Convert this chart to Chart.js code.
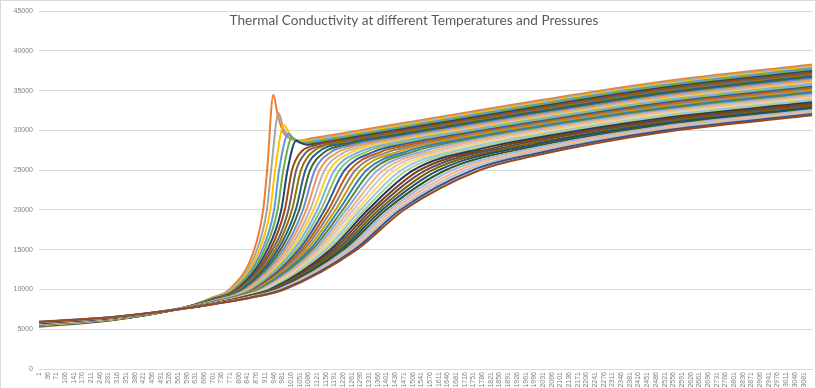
<!DOCTYPE html>
<html>
<head>
<meta charset="utf-8">
<script src="https://cdn.jsdelivr.net/npm/chart.js@4.4.1/dist/chart.umd.min.js"></script>
<style>
  html, body { margin: 0; padding: 0; background: #fff; }
  #frame { width: 815px; height: 388px; box-sizing: border-box; border-left: 1px solid #d9d9d9; border-top: 1px solid #d9d9d9; }
  canvas { display: block; }
</style>
</head>
<body>
<div id="frame"><canvas id="conductivityChart" width="814" height="387"></canvas></div>
<script>
const chartTitle = 'Thermal Conductivity at different Temperatures and Pressures';

// one value per pressure curve (40 curves)
const kAt1 = [5300, 5320, 5330, 5350, 5370, 5380, 5400, 5420, 5430, 5450, 5470, 5480, 5500, 5520, 5530, 5550, 5570, 5580, 5600, 5620, 5630, 5650, 5670, 5680, 5700, 5720, 5730, 5750, 5770, 5780, 5800, 5820, 5830, 5850, 5870, 5880, 5900, 5920, 5930, 5950];
const kAt300 = [6150, 6160, 6170, 6180, 6190, 6200, 6210, 6220, 6230, 6240, 6250, 6260, 6270, 6280, 6290, 6300, 6310, 6330, 6340, 6350, 6360, 6370, 6380, 6390, 6400, 6410, 6420, 6430, 6440, 6450, 6460, 6470, 6480, 6490, 6500, 6510, 6520, 6530, 6540, 6550];
const kAt600 = [7850, 7845, 7840, 7835, 7830, 7825, 7820, 7815, 7810, 7805, 7800, 7795, 7790, 7785, 7780, 7775, 7770, 7765, 7760, 7755, 7750, 7745, 7740, 7735, 7730, 7725, 7720, 7715, 7710, 7705, 7700, 7695, 7690, 7685, 7680, 7675, 7670, 7665, 7660, 7655];
const kAt700 = [9000, 8950, 8900, 8860, 8820, 8780, 8740, 8700, 8660, 8620, 8590, 8560, 8530, 8500, 8470, 8450, 8420, 8400, 8370, 8350, 8330, 8310, 8300, 8280, 8270, 8250, 8240, 8230, 8220, 8210, 8200, 8190, 8180, 8175, 8170, 8165, 8160, 8155, 8150, 8150];
const kAt850 = [...Array(20).fill(null), 9530, 9500, 9470, 9430, 9400, 9370, 9340, 9310, 9280, 9250, 9210, 9180, 9150, 9120, 9090, 9060, 9030, 9000, 8960, 8930];

// temperature where each curve crosses the 10000 / 15000 / 20000 / 25000 gridlines
const t10k = [768, 774, 779, 785, 791, 796, 802, 808, 813, 819, 825, 830, 836, 842, 847, 853, 859, 864, 870, 876, 881, 887, 893, 898, 904, 910, 915, 921, 926, 932, 938, 943, 949, 955, 960, 966, 972, 977, 983, 989];
const t15k = [868, 879, 889, 900, 910, 921, 932, 942, 953, 963, 974, 985, 995, 1006, 1016, 1027, 1038, 1048, 1059, 1069, 1080, 1091, 1101, 1112, 1122, 1133, 1144, 1154, 1165, 1175, 1186, 1197, 1207, 1218, 1228, 1239, 1250, 1260, 1271, 1281];
const t20k = [904, 919, 933, 948, 962, 977, 991, 1006, 1020, 1035, 1049, 1064, 1078, 1093, 1107, 1122, 1136, 1151, 1166, 1180, 1195, 1209, 1224, 1238, 1253, 1267, 1282, 1296, 1311, 1325, 1340, 1354, 1369, 1383, 1398, 1413, 1427, 1442, 1456, 1471];
const t25k = [920, 936, 952, 968, 985, 1002, 1020, 1037, 1056, 1074, 1093, 1112, 1131, 1151, 1171, 1191, 1211, 1232, 1254, 1275, 1297, 1320, 1342, 1365, 1388, 1412, 1435, 1460, 1484, 1509, 1534, 1560, 1585, 1611, 1638, 1665, 1692, 1719, 1747, 1775];

// the six low-pressure curves overshoot into a peak before settling
const peakTemp = [945, 966, 988, 1006, 1021, 1037];
const peakK = [34500, 32200, 30700, 29600, 29100, 28700];
const dropTempA = [962, 985, 1008, 1022, 1035, 1050];
const dropKA = [32000, 30300, 29700, 29100, 28800, 28500];
const dropTempB = [990, 1015, 1025, 1040, 1052, 1065];
const dropKB = [29500, 29100, 29000, 28750, 28550, 28330];
const dipTemp = [1050, 1055, 1050, 1062, 1075, 1080];
const dipK = [28750, 28600, 28620, 28450, 28330, 28200];

// bend of the other curves into the upper band
const kneeTemp = [null, null, null, null, null, null, 1056, 1078, null, 1124, 1149, 1175, 1202, 1230, 1259, 1288, 1319, 1351, 1383, 1417, null, 1487, 1523, 1561, 1600, 1639, 1680, 1721, 1764, 1806, 1851, 1896, 1942, null, null, null, null, null, null, null];
const kneeK = [null, null, null, null, null, null, 27290, 27270, null, 27240, 27230, 27230, 27230, 27240, 27240, 27260, 27310, 27330, 27370, 27400, null, 27420, 27460, 27490, 27540, 27610, 27670, 27730, 27800, 27870, 27940, 28020, 28100, null, null, null, null, null, null, null];

// upper band, read at fixed temperatures (null while a curve is still rising)
const kAt1100 = [29010, 28860, 28710, 28570, 28420, 28270, 28030, 27720, 27240, ...Array(31).fill(null)];
const kAt1250 = [29790, 29640, 29490, 29350, 29200, 29050, 28900, 28750, 28600, 28440, 28270, 28070, 27820, 27510, ...Array(26).fill(null)];
const kAt1450 = [30840, 30690, 30540, 30390, 30240, 30090, 29940, 29790, 29640, 29490, 29340, 29190, 29030, 28880, 28720, 28550, 28360, 28150, 27920, 27660, 27370, ...Array(19).fill(null)];
const kAt1700 = [32150, 31990, 31840, 31690, 31540, 31390, 31230, 31080, 30930, 30780, 30620, 30470, 30320, 30170, 30020, 29860, 29710, 29550, 29400, 29230, 29060, 28880, 28700, 28500, 28290, 28060, ...Array(14).fill(null)];
const kAt2000 = [33700, 33550, 33390, 33240, 33080, 32930, 32770, 32620, 32460, 32310, 32150, 32000, 31840, 31690, 31530, 31380, 31230, 31070, 30920, 30760, 30610, 30450, 30290, 30130, 29960, 29790, 29620, 29440, 29260, 29060, 28870, 28660, 28450, 28230, 28010, 27790, 27550, 27320, 27080, 26840];
const kAt2500 = [36100, 35940, 35780, 35620, 35460, 35310, 35150, 34990, 34830, 34670, 34510, 34350, 34190, 34030, 33870, 33720, 33560, 33400, 33240, 33080, 32920, 32760, 32600, 32440, 32280, 32130, 31970, 31800, 31640, 31480, 31310, 31150, 30980, 30800, 30630, 30450, 30270, 30090, 29900, 29710];
const kAt3116 = [38300, 38140, 37970, 37810, 37640, 37480, 37320, 37150, 36990, 36820, 36660, 36500, 36330, 36170, 36000, 35840, 35670, 35510, 35350, 35180, 35020, 34850, 34690, 34530, 34360, 34200, 34030, 33870, 33710, 33540, 33380, 33210, 33050, 32890, 32720, 32560, 32390, 32230, 32060, 31900];

const seriesColors = [
    '#ED7D31', '#A5A5A5', '#FFC000', '#5B9BD5', '#70AD47',
    '#264478', '#9E480E', '#636363', '#997300', '#255E91', '#43682B',
    '#698ED0', '#F1975A', '#B7B7B7', '#FFCD33', '#7CAFDD', '#8CC168',
    '#335AA1', '#C55A11', '#848484', '#CC9A00', '#327DC2', '#5A8A39',
    '#8FAADC', '#F4B183', '#C9C9C9', '#FFD966', '#9DC3E6', '#A9D18E',
    '#203864', '#843C0C', '#525252', '#7F6000', '#1F4E79', '#385723',
    '#A2B8E1', '#F5B58A', '#C0C0C0', '#2F5597', '#9C4A1A'
];

// category labels shown under the axis: every 35th row
const tempTicks = [];
for (let t = 1; t <= 3081; t += 35) tempTicks.push(t);

const datasets = seriesColors.map((color, i) => {
    let points = [
        [1, kAt1[i]], [300, kAt300[i]], [600, kAt600[i]], [700, kAt700[i]], [850, kAt850[i]],
        [t10k[i], 10000], [t15k[i], 15000], [t20k[i], 20000], [t25k[i], 25000],
        [kneeTemp[i], kneeK[i]],
        [1100, kAt1100[i]], [1250, kAt1250[i]], [1450, kAt1450[i]], [1700, kAt1700[i]],
        [2000, kAt2000[i]], [2500, kAt2500[i]], [3116, kAt3116[i]]
    ];
    if (i < peakTemp.length) {
        points.push([peakTemp[i], peakK[i]], [dropTempA[i], dropKA[i]],
                    [dropTempB[i], dropKB[i]], [dipTemp[i], dipK[i]]);
    }
    points = points.filter(p => p[0] != null && p[1] != null).sort((a, b) => a[0] - b[0]);
    return {
        data: points.map(([x, y]) => ({ x, y })),
        borderColor: color,
        backgroundColor: color,
        borderWidth: 2,
        pointRadius: 0,
        cubicInterpolationMode: 'monotone',
        order: seriesColors.length - i
    };
});

// Excel-style title laid over the top of the plot area
const overlayTitle = {
    id: 'overlayTitle',
    afterDraw(chart) {
        const c = chart.ctx;
        c.save();
        c.font = '13.6px Lato, "Liberation Sans", sans-serif';
        c.fillStyle = '#595959';
        c.textAlign = 'center';
        c.textBaseline = 'middle';
        c.fillText(chartTitle, 413, 20);
        c.restore();
    }
};

Chart.defaults.font.family = '"Liberation Sans", Arial, sans-serif';

const ctx = document.getElementById('conductivityChart').getContext('2d');
new Chart(ctx, {
    type: 'line',
    data: { datasets: datasets },
    options: {
        responsive: false,
        animation: false,
        events: [],
        layout: { padding: { top: 9, right: 0, left: 0, bottom: 0 } },
        plugins: {
            legend: { display: false },
            tooltip: { enabled: false },
            title: { display: false }
        },
        scales: {
            x: {
                type: 'linear',
                min: 1,
                max: 3116,
                grid: { display: false, drawTicks: false },
                border: { display: true, color: '#d9d9d9' },
                afterBuildTicks: scale => { scale.ticks = tempTicks.map(value => ({ value })); },
                afterFit: scale => { scale.height = 19; },
                ticks: {
                    autoSkip: false,
                    minRotation: 90,
                    maxRotation: 90,
                    padding: 3,
                    color: '#808080',
                    font: { size: 7 },
                    callback: value => String(value)
                }
            },
            y: {
                min: 0,
                max: 45000,
                afterFit: scale => { scale.width = 38; },
                grid: { color: '#d9d9d9', drawTicks: false },
                border: { display: false },
                ticks: {
                    stepSize: 5000,
                    padding: 6,
                    color: '#808080',
                    font: { size: 7 },
                    callback: value => String(value)
                }
            }
        }
    },
    plugins: [overlayTitle]
});
</script>
</body>
</html>
